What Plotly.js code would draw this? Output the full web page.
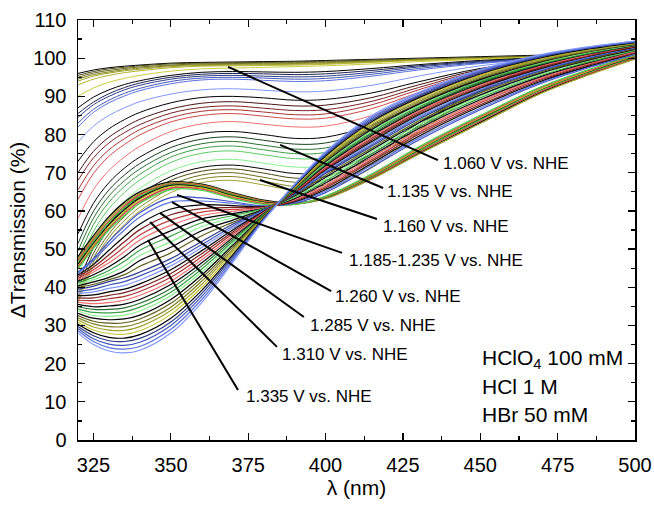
<!DOCTYPE html>
<html>
<head>
<meta charset="utf-8">
<script src="https://cdn.plot.ly/plotly-3.0.1.min.js"></script>
<style>
  html, body { margin: 0; padding: 0; background: #ffffff; }
  #chart { width: 654px; height: 505px; }
</style>
</head>
<body>
<div id="chart"></div>
<script>
// Wavelength grid (nm) on which each spectrum is sampled
const wavelength = [320, 325, 330, 335, 340, 350, 360, 370, 380, 390, 400, 415, 430, 450, 470, 485, 500];

// 1.060 V ... 1.160 V: spectra sinking from the baseline
const stageA_yellow = [
  [96.0, 96.9, 97.5, 97.9, 98.2, 98.7, 98.9, 99.0, 99.1, 99.2, 99.4, 99.7, 100.0, 100.4, 100.8, 101.0, 101.3],
  [95.5, 96.5, 97.2, 97.6, 98.0, 98.5, 98.7, 98.8, 98.9, 99.0, 99.2, 99.5, 99.8, 100.2, 100.6, 100.8, 101.1],
  [95.0, 96.1, 96.8, 97.3, 97.7, 98.2, 98.5, 98.6, 98.7, 98.8, 99.0, 99.3, 99.7, 100.1, 100.5, 100.7, 101.0],
  [94.5, 95.7, 96.4, 97.0, 97.4, 98.0, 98.3, 98.4, 98.5, 98.6, 98.8, 99.2, 99.6, 100.0, 100.4, 100.6, 100.9],
  [94.0, 95.3, 96.1, 96.7, 97.1, 97.8, 98.1, 98.2, 98.3, 98.4, 98.6, 99.0, 99.5, 99.9, 100.3, 100.6, 100.9],
  [93.0, 94.5, 95.5, 96.2, 96.7, 97.5, 97.9, 98.0, 98.1, 98.2, 98.4, 98.9, 99.4, 99.9, 100.3, 100.5, 100.8],
  [90.0, 92.2, 93.7, 94.7, 95.5, 96.6, 97.2, 97.4, 97.6, 97.8, 98.0, 98.5, 99.1, 99.7, 100.2, 100.5, 100.8]
];
const stageA_blue = [
  [87.0, 89.8, 91.7, 93.1, 94.1, 95.5, 96.3, 96.5, 96.4, 96.3, 96.5, 97.3, 98.3, 99.4, 100.1, 100.4, 100.8],
  [85.5, 88.5, 90.7, 92.3, 93.5, 95.0, 95.8, 96.0, 95.9, 95.7, 95.9, 96.8, 98.0, 99.2, 100.0, 100.4, 100.7],
  [84.5, 87.8, 90.0, 91.7, 92.9, 94.5, 95.3, 95.5, 95.3, 95.1, 95.3, 96.3, 97.7, 99.0, 99.9, 100.3, 100.7],
  [83.0, 86.6, 89.0, 90.8, 92.1, 93.9, 94.8, 95.0, 94.8, 94.5, 94.7, 95.8, 97.3, 98.8, 99.8, 100.2, 100.6],
  [82.0, 85.8, 88.3, 90.1, 91.5, 93.3, 94.3, 94.5, 94.2, 93.9, 94.1, 95.3, 96.9, 98.6, 99.7, 100.1, 100.6],
  [78.0, 82.2, 85.0, 87.0, 88.6, 90.6, 91.7, 92.0, 91.6, 91.2, 91.4, 92.9, 95.3, 98.0, 99.5, 100.0, 100.5]
];
const stageA_red = [
  [73.0, 78.1, 81.5, 83.9, 85.8, 88.3, 89.7, 90.0, 89.6, 89.0, 89.2, 90.9, 93.8, 97.3, 99.3, 99.9, 100.4],
  [70.0, 75.6, 79.3, 81.9, 84.0, 86.7, 88.2, 88.6, 88.1, 87.5, 87.7, 89.7, 93.0, 97.0, 99.2, 99.8, 100.4],
  [68.0, 73.9, 77.8, 80.5, 82.6, 85.6, 87.1, 87.5, 86.9, 86.3, 86.5, 88.7, 92.3, 96.7, 99.1, 99.8, 100.3],
  [65.5, 71.8, 76.0, 78.9, 81.3, 84.4, 86.1, 86.5, 85.9, 85.2, 85.4, 87.8, 91.7, 96.4, 99.0, 99.7, 100.3],
  [63.0, 69.8, 74.3, 77.4, 79.9, 83.3, 85.0, 85.5, 84.8, 84.1, 84.3, 86.8, 91.0, 96.1, 98.9, 99.7, 100.3],
  [58.0, 65.6, 70.6, 74.1, 76.9, 80.8, 82.8, 83.4, 82.7, 82.0, 82.2, 85.0, 89.8, 95.5, 98.7, 99.6, 100.2]
];
const stageA_green = [
  [54.0, 62.0, 67.4, 71.2, 74.1, 78.1, 80.3, 80.8, 80.0, 79.0, 79.3, 82.5, 88.0, 94.5, 98.4, 99.5, 100.2],
  [51.5, 59.9, 65.5, 69.4, 72.4, 76.6, 78.8, 79.4, 78.5, 77.5, 77.8, 81.3, 87.2, 94.1, 98.2, 99.4, 100.1],
  [49.5, 58.1, 63.9, 67.9, 71.0, 75.3, 77.6, 78.2, 77.2, 76.2, 76.5, 80.2, 86.4, 93.8, 98.0, 99.3, 100.1],
  [47.5, 56.4, 62.3, 66.4, 69.6, 74.1, 76.4, 77.0, 76.0, 75.0, 75.3, 79.2, 85.7, 93.4, 97.9, 99.2, 100.0],
  [45.5, 54.6, 60.6, 64.8, 68.1, 72.7, 75.1, 75.7, 74.7, 73.7, 74.0, 78.1, 85.0, 93.0, 97.8, 99.1, 100.0],
  [43.0, 52.2, 58.3, 62.5, 65.9, 70.5, 72.9, 73.5, 72.5, 71.5, 71.8, 76.2, 83.7, 92.4, 97.6, 99.0, 99.9]
];
const stageA_olive = [
  [41.0, 50.3, 56.5, 60.8, 64.3, 69.0, 71.4, 72.0, 71.0, 69.8, 70.2, 75.0, 83.0, 92.2, 97.5, 99.0, 99.9],
  [39.5, 48.9, 55.3, 59.7, 63.2, 68.0, 70.4, 71.0, 69.9, 68.6, 69.0, 74.0, 82.3, 91.9, 97.4, 98.9, 99.8],
  [38.0, 47.6, 54.0, 58.5, 62.0, 66.8, 69.4, 70.0, 68.8, 67.5, 67.9, 73.1, 81.7, 91.6, 97.3, 98.8, 99.8],
  [37.0, 46.6, 53.0, 57.5, 61.0, 65.8, 68.4, 69.0, 67.8, 66.4, 66.8, 72.2, 81.0, 91.3, 97.2, 98.8, 99.7],
  [36.0, 45.6, 52.0, 56.5, 60.0, 64.8, 67.4, 68.0, 66.8, 65.4, 65.8, 71.3, 80.4, 91.0, 97.1, 98.7, 99.7]
];

// 1.185-1.235 V: band peaking near 350 nm
const stageB = [
  [48.0, 53.5, 58.5, 62.3, 65.0, 67.6, 67.0, 64.8, 62.8, 62.0, 63.4, 68.6, 75.0, 83.2, 91.2, 95.8, 99.9],
  [47.5, 53.0, 58.0, 61.8, 64.6, 67.3, 66.8, 64.6, 62.6, 61.9, 63.2, 68.4, 74.8, 82.9, 90.9, 95.6, 99.8],
  [47.0, 52.5, 57.4, 61.3, 64.2, 67.1, 66.6, 64.4, 62.5, 61.9, 63.4, 68.8, 75.4, 83.6, 91.5, 96.0, 100.1],
  [46.5, 52.0, 57.0, 60.8, 63.8, 66.9, 66.4, 64.2, 62.3, 61.8, 63.5, 69.0, 75.7, 83.9, 91.8, 96.3, 100.3],
  [46.0, 51.5, 56.4, 60.3, 63.4, 66.7, 66.2, 64.0, 62.2, 61.8, 63.6, 69.2, 76.0, 84.2, 92.0, 96.5, 100.5],
  [45.5, 51.0, 55.9, 59.8, 63.0, 66.4, 66.0, 63.8, 62.1, 61.8, 63.7, 69.3, 76.1, 84.4, 92.1, 96.6, 100.6],
  [45.2, 50.6, 55.4, 59.3, 62.5, 66.0, 65.7, 63.5, 61.9, 61.7, 63.8, 69.5, 76.4, 84.7, 92.4, 96.8, 100.7],
  [44.8, 50.2, 55.0, 58.8, 62.0, 65.6, 65.4, 63.2, 61.7, 61.7, 63.9, 69.7, 76.7, 85.0, 92.6, 97.0, 100.8]
];

// 1.260 V ... 1.335 V: peak fading, then the 335 nm dip deepening
const stageC_early = [
  [44.0, 47.5, 52.0, 56.0, 59.5, 63.5, 63.4, 62.4, 61.3, 62.0, 64.8, 71.5, 78.5, 86.5, 93.5, 97.5, 101.0],
  [43.6, 47.0, 51.2, 55.0, 58.4, 62.3, 62.6, 62.0, 61.2, 62.2, 65.2, 72.0, 79.0, 86.9, 93.8, 97.7, 101.1],
  [43.2, 46.0, 49.7, 53.3, 56.6, 60.5, 61.6, 61.4, 61.1, 62.4, 65.6, 72.5, 79.5, 87.4, 94.1, 97.9, 101.3],
  [42.8, 45.3, 48.5, 51.9, 55.1, 59.0, 60.6, 60.9, 61.0, 62.6, 66.0, 73.0, 80.0, 87.8, 94.4, 98.2, 101.4],
  [42.4, 44.6, 47.4, 50.6, 53.7, 57.6, 59.7, 60.4, 60.9, 62.8, 66.4, 73.5, 80.5, 88.3, 94.7, 98.4, 101.6],
  [42.0, 44.0, 46.4, 49.3, 52.4, 56.2, 58.8, 59.9, 60.8, 63.0, 66.8, 74.0, 81.0, 88.7, 95.0, 98.6, 101.7],
  [41.6, 43.3, 45.4, 48.0, 51.0, 54.8, 57.9, 59.3, 60.7, 63.2, 67.3, 74.5, 81.5, 89.1, 95.3, 98.8, 101.9],
  [41.2, 42.6, 44.4, 46.8, 49.7, 53.4, 56.9, 58.8, 60.6, 63.5, 67.8, 75.0, 82.0, 89.6, 95.6, 99.0, 102.0],
  [40.8, 42.0, 43.5, 45.5, 48.3, 51.9, 55.9, 58.2, 60.5, 63.7, 68.3, 75.5, 82.5, 90.0, 95.9, 99.3, 102.2],
  [40.4, 41.4, 42.6, 44.3, 47.0, 50.5, 54.8, 57.6, 60.4, 63.9, 68.8, 76.0, 83.0, 90.4, 96.2, 99.5, 102.3],
  [40.0, 40.8, 42.0, 43.3, 45.5, 49.0, 53.5, 57.0, 60.3, 64.1, 69.3, 76.5, 83.5, 90.9, 96.5, 99.7, 102.5]
];
const stageC_late = [
  [39.5, 40.3, 41.5, 42.5, 44.0, 47.5, 52.0, 56.5, 60.3, 64.3, 69.8, 77.0, 84.0, 91.3, 96.8, 100.0, 102.6],
  [38.9, 39.5, 40.6, 41.5, 43.0, 46.5, 51.2, 56.0, 60.2, 64.4, 70.1, 77.4, 84.4, 91.6, 97.0, 100.2, 102.7],
  [38.4, 38.8, 39.7, 40.5, 41.9, 45.6, 50.4, 55.5, 60.0, 64.6, 70.4, 77.8, 84.7, 91.9, 97.2, 100.3, 102.8],
  [37.8, 38.0, 38.8, 39.5, 40.9, 44.6, 49.6, 55.0, 59.9, 64.7, 70.7, 78.2, 85.1, 92.2, 97.4, 100.5, 102.9],
  [37.2, 37.2, 37.9, 38.6, 39.9, 43.6, 48.8, 54.5, 59.7, 64.8, 70.9, 78.6, 85.4, 92.4, 97.6, 100.6, 103.0],
  [36.6, 36.5, 37.0, 37.6, 38.9, 42.6, 48.0, 54.0, 59.6, 65.0, 71.2, 79.0, 85.8, 92.7, 97.9, 100.8, 103.1],
  [36.1, 35.7, 36.0, 36.6, 37.9, 41.6, 47.2, 53.5, 59.5, 65.1, 71.5, 79.4, 86.1, 93.0, 98.1, 100.9, 103.2],
  [35.5, 34.9, 35.1, 35.6, 36.8, 40.7, 46.4, 53.0, 59.3, 65.2, 71.8, 79.8, 86.5, 93.3, 98.3, 101.1, 103.3],
  [34.9, 34.2, 34.2, 34.6, 35.8, 39.7, 45.6, 52.5, 59.2, 65.4, 72.1, 80.2, 86.8, 93.6, 98.5, 101.2, 103.4],
  [34.3, 33.4, 33.3, 33.6, 34.8, 38.7, 44.8, 52.0, 59.0, 65.5, 72.4, 80.6, 87.2, 93.9, 98.7, 101.4, 103.5],
  [33.8, 32.6, 32.4, 32.7, 33.8, 37.8, 44.0, 51.5, 58.9, 65.7, 72.7, 81.0, 87.5, 94.2, 98.9, 101.5, 103.6],
  [33.2, 31.9, 31.5, 31.7, 32.7, 36.8, 43.2, 51.0, 58.8, 65.8, 72.9, 81.4, 87.9, 94.4, 99.1, 101.7, 103.6],
  [32.6, 31.1, 30.6, 30.7, 31.7, 35.8, 42.4, 50.5, 58.6, 65.9, 73.2, 81.8, 88.2, 94.7, 99.3, 101.8, 103.7],
  [32.0, 30.4, 29.7, 29.7, 30.7, 34.8, 41.6, 50.0, 58.5, 66.1, 73.5, 82.2, 88.6, 95.0, 99.5, 102.0, 103.8],
  [31.5, 29.6, 28.8, 28.7, 29.7, 33.9, 40.8, 49.5, 58.3, 66.2, 73.8, 82.6, 88.9, 95.3, 99.7, 102.1, 103.9],
  [30.9, 28.8, 27.9, 27.7, 28.6, 32.9, 40.0, 49.0, 58.2, 66.3, 74.1, 83.0, 89.3, 95.6, 100.0, 102.3, 104.0],
  [30.3, 28.1, 26.9, 26.7, 27.6, 31.9, 39.2, 48.5, 58.1, 66.5, 74.4, 83.4, 89.6, 95.9, 100.2, 102.4, 104.1],
  [29.7, 27.3, 26.0, 25.8, 26.6, 30.9, 38.4, 48.0, 57.9, 66.6, 74.7, 83.8, 90.0, 96.1, 100.4, 102.6, 104.2],
  [29.2, 26.5, 25.1, 24.8, 25.6, 30.0, 37.6, 47.5, 57.8, 66.7, 74.9, 84.2, 90.3, 96.4, 100.6, 102.7, 104.3],
  [28.6, 25.8, 24.2, 23.8, 24.5, 29.0, 36.8, 47.0, 57.6, 66.9, 75.2, 84.6, 90.7, 96.7, 100.8, 102.9, 104.4],
  [28.0, 25.0, 23.3, 22.8, 23.5, 28.0, 36.0, 46.5, 57.5, 67.0, 75.5, 85.0, 91.0, 97.0, 101.0, 103.0, 104.5]
];

// Line colours, one per spectrum, in the same order as the arrays above
const colA_yellow = ['#000000', '#4a4a14', '#6a6a1c', '#858524', '#9e9e2a', '#b4b430', '#cccc3c'];
const colA_blue   = ['#000000', '#1c2452', '#2f3d88', '#4157b8', '#5a72dd', '#7f97ff'];
const colA_red    = ['#000000', '#4a1414', '#7a2222', '#a83232', '#d04848', '#f07070'];
const colA_green  = ['#000000', '#17401c', '#28702f', '#3ca046', '#5acc63', '#88f08d'];
const colA_olive  = ['#000000', '#4a4a14', '#6a6a1c', '#858524', '#a3a330'];
const colB        = ['#000000', '#a0a030', '#d04040', '#40c040', '#000000', '#c8c830', '#d04848', '#50d050'];
const colC_early  = ['#3d4fc0', '#5a72dd', '#000000', '#7a2222', '#c04040', '#f07070', '#000000', '#3ca046', '#88f08d', '#000000', '#5e5e1c'];
const colC_late   = ['#2f3d88', '#4157b8', '#7f97ff', '#000000', '#7a2222', '#a83232', '#f07070', '#000000',
                     '#28702f', '#3ca046', '#88f08d', '#000000', '#5e5e1c', '#808026', '#a3a330', '#c6c63a',
                     '#000000', '#2f3d88', '#4157b8', '#5a72dd', '#7f97ff'];

// Pointer labels
const potentialLabels = ['1.060 V vs. NHE', '1.135 V vs. NHE', '1.160 V vs. NHE', '1.185-1.235 V vs. NHE',
                         '1.260 V vs. NHE', '1.285 V vs. NHE', '1.310 V vs. NHE', '1.335 V vs. NHE'];
const electrolyteLabels = ['HClO<sub>4</sub> 100 mM', 'HCl 1 M', 'HBr 50 mM'];

const traces = [];
function addGroup(curves, colors, width) {
  curves.forEach((vals, i) => {
    traces.push({
      x: wavelength, y: vals, type: 'scatter', mode: 'lines',
      line: { color: colors[i % colors.length], width: width, shape: 'spline', smoothing: 1 },
      hoverinfo: 'skip', showlegend: false
    });
  });
}
addGroup(stageA_yellow, colA_yellow, 1);
addGroup(stageA_blue, colA_blue, 1);
addGroup(stageA_red, colA_red, 1);
addGroup(stageA_green, colA_green, 1);
addGroup(stageA_olive, colA_olive, 1);
addGroup(stageB, colB, 1.3);
addGroup(stageC_early, colC_early, 1.2);
addGroup(stageC_late, colC_late, 1.2);

// Leader lines: [from wavelength, from value, to wavelength, to value]
const leaders = [
  [368.5, 97.7, 436.3, 73.3],
  [385.3, 77.3, 418.6, 66.0],
  [378.8, 68.1, 416.6, 57.9],
  [352.0, 64.2, 405.3, 49.0],
  [350.4, 62.3, 401.8, 39.0],
  [346.5, 59.5, 393.0, 32.2],
  [343.3, 57.1, 384.3, 24.4],
  [342.6, 52.4, 371.7, 13.1]
];
const labelAt = [
  [437.3, 72.5], [419.2, 65.0], [417.9, 56.0], [406.9, 47.1],
  [402.4, 37.7], [394.3, 30.1], [385.3, 22.5], [373.6, 11.5]
];

const shapes = leaders.map(l => ({
  type: 'line', xref: 'x', yref: 'y', x0: l[0], y0: l[1], x1: l[2], y1: l[3],
  line: { color: '#000000', width: 2 }
}));

const annotations = potentialLabels.map((t, i) => ({
  x: labelAt[i][0], y: labelAt[i][1], xref: 'x', yref: 'y', text: t,
  showarrow: false, xanchor: 'left', yanchor: 'middle',
  font: { family: 'Liberation Sans, Arial, sans-serif', size: 17, color: '#000000' }
}));
const electrolyteY = [21.2, 13.9, 6.8];
electrolyteLabels.forEach((t, i) => {
  annotations.push({
    x: 449.9, y: electrolyteY[i], xref: 'x', yref: 'y', text: t,
    showarrow: false, xanchor: 'left', yanchor: 'middle',
    font: { family: 'Liberation Sans, Arial, sans-serif', size: 21, color: '#000000' }
  });
});

const axisCommon = {
  ticks: 'inside', ticklen: 7, tickwidth: 1.3, tickcolor: '#000000',
  showline: true, linecolor: '#000000', linewidth: 1.5, mirror: 'allticks',
  showgrid: false, zeroline: false,
  tickfont: { family: 'Liberation Sans, Arial, sans-serif', size: 20, color: '#000000' },
  ticklabelstandoff: 6
};

const layout = {
  width: 654, height: 505,
  margin: { l: 78, r: 19, t: 20, b: 65 },
  paper_bgcolor: '#ffffff', plot_bgcolor: '#ffffff',
  font: { family: 'Liberation Sans, Arial, sans-serif', color: '#000000' },
  xaxis: Object.assign({}, axisCommon, {
    range: [320, 500], tick0: 0, dtick: 25,
    minor: { dtick: 12.5, ticks: 'inside', ticklen: 4, tickwidth: 1.2, tickcolor: '#000000' },
    title: { text: 'λ (nm)', font: { size: 21 }, standoff: 6 }
  }),
  yaxis: Object.assign({}, axisCommon, {
    range: [0, 110], tick0: 0, dtick: 10,
    minor: { dtick: 5, ticks: 'inside', ticklen: 4, tickwidth: 1.2, tickcolor: '#000000' },
    title: { text: 'ΔTransmission (%)', font: { size: 21 }, standoff: 2 }
  }),
  shapes: shapes,
  annotations: annotations
};

Plotly.newPlot('chart', traces, layout, { displayModeBar: false, staticPlot: true });
</script>
</body>
</html>
